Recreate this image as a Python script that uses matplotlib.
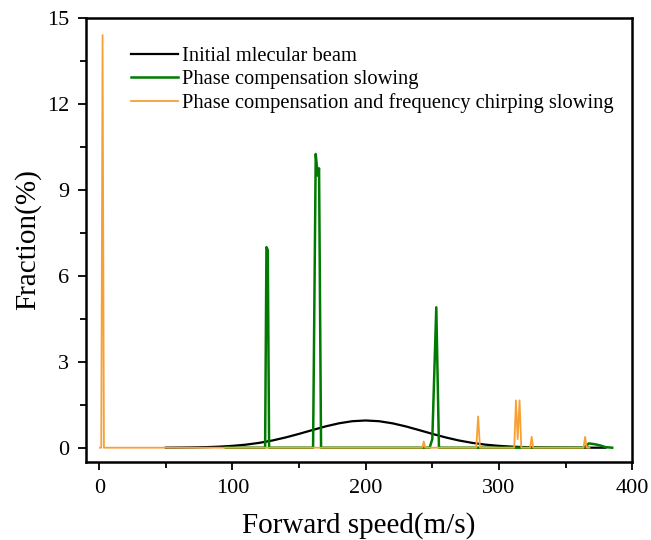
import matplotlib
matplotlib.use("Agg")
import matplotlib.pyplot as plt
from matplotlib.ticker import MultipleLocator

plt.rcParams['font.family'] = ['Liberation Serif', 'DejaVu Serif']

# Initial molecular beam
beam_x = [50, 60, 70, 80, 90, 100, 110, 120, 130, 140, 150, 160, 170, 180, 190,
          200, 210, 220, 230, 240, 250, 260, 270, 280, 290, 300, 310, 320, 330,
          340, 350, 360, 370, 380]
beam_y = [0.002, 0.005, 0.010, 0.019, 0.036, 0.064, 0.106, 0.168, 0.252, 0.359,
          0.483, 0.616, 0.745, 0.852, 0.925, 0.95, 0.925, 0.852, 0.745, 0.616,
          0.483, 0.359, 0.252, 0.168, 0.106, 0.064, 0.036, 0.019, 0.010, 0.005,
          0.002, 0.001, 0.0, 0.0]

# Phase compensation slowing
green_x = [95, 124.5, 125.5, 126.5, 127.5, 160.5, 162.5, 164.0, 165.0, 166.5,
           248.0, 250.0, 253.0, 255.0, 256.0, 364.0, 367.5, 372.0, 376.0, 380.0, 385.0]
green_y = [0.0, 0.0, 7.0, 6.9, 0.0, 0.0, 10.25, 9.5, 9.75, 0.0,
           0.0, 0.3, 4.9, 0.0, 0.0, 0.0, 0.15, 0.12, 0.08, 0.02, 0.0]

# Phase compensation and frequency chirping slowing
orange_x = [0.5, 1.5, 2.5, 3.5, 5.0, 242.5, 243.6, 244.7, 283.0, 284.4, 285.8,
            311.5, 312.8, 314.1, 315.5, 316.8, 323.5, 324.6, 325.7,
            363.5, 364.7, 365.9, 368.0]
orange_y = [0.0, 0.0, 14.4, 0.0, 0.0, 0.0, 0.22, 0.0, 0.0, 1.09, 0.0,
            0.0, 1.65, 0.3, 1.65, 0.0, 0.0, 0.38, 0.0,
            0.0, 0.38, 0.0, 0.0]

labels = ["Initial mlecular beam",
          "Phase compensation slowing",
          "Phase compensation and frequency chirping slowing"]

fig = plt.figure(figsize=(6.51, 5.40), dpi=100)
ax = fig.add_axes([0.132, 0.1444, 0.839, 0.8223])

ax.plot(beam_x, beam_y, color='black', lw=1.6, label=labels[0])
ax.plot(green_x, green_y, color='#007a00', lw=1.8, label=labels[1])
ax.plot(orange_x, orange_y, color='#f7a035', lw=1.3, label=labels[2])

ax.set_xlim(-10, 400)
ax.set_ylim(-0.5, 15)
ax.xaxis.set_major_locator(MultipleLocator(100))
ax.xaxis.set_minor_locator(MultipleLocator(50))
ax.yaxis.set_major_locator(MultipleLocator(3))
ax.yaxis.set_minor_locator(MultipleLocator(1.5))
ax.tick_params(which='major', direction='out', length=6, width=1.3, labelsize=16, pad=6)
ax.tick_params(which='minor', direction='out', length=4, width=1.3)
for s in ax.spines.values():
    s.set_linewidth(1.8)

ax.set_xlabel("Forward speed(m/s)", fontsize=21, labelpad=10)
ax.set_ylabel("Fraction(%)", fontsize=21, labelpad=4)

leg = ax.legend(loc='upper left', bbox_to_anchor=(0.056, 0.967), frameon=False,
                fontsize=14.8, handlelength=2.3, handletextpad=0.2,
                labelspacing=0.17, borderaxespad=0.3)

fig.savefig("out.png", dpi=100)
